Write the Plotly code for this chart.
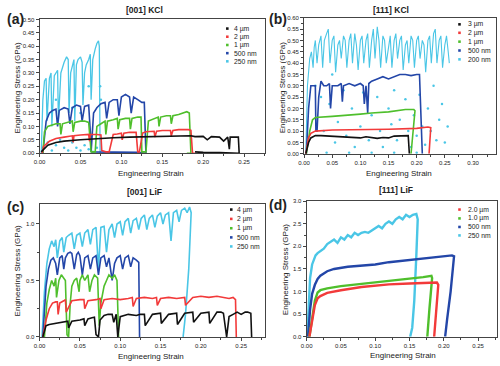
import plotly.graph_objects as go

W, H = 500, 366

# ---------------- (a) [001] KCl ----------------
A_BLACK_X = [0.002, 0.01, 0.02, 0.03, 0.05, 0.07, 0.09, 0.11, 0.13, 0.15, 0.17, 0.185, 0.19, 0.20, 0.205, 0.21, 0.22, 0.225, 0.23, 0.232, 0.233, 0.235, 0.24, 0.243, 0.244, 0.24, 0.22, 0.20, 0.19]
A_BLACK_Y = [0.005, 0.03, 0.04, 0.045, 0.05, 0.055, 0.058, 0.06, 0.062, 0.063, 0.065, 0.065, 0.062, 0.063, 0.05, 0.062, 0.06, 0.045, 0.06, 0.015, 0.06, 0.06, 0.06, 0.06, 0.0, 0.0, 0.002, 0.003, 0.005]
A_RED_X = [0.003, 0.005, 0.012, 0.02, 0.03, 0.04, 0.041, 0.042, 0.05, 0.06, 0.061, 0.062, 0.07, 0.075, 0.076, 0.08, 0.081, 0.085, 0.09, 0.095, 0.1, 0.101, 0.103, 0.11, 0.118, 0.12, 0.122, 0.126, 0.13, 0.14, 0.141, 0.143, 0.15, 0.16, 0.161, 0.163, 0.17, 0.178, 0.182, 0.185, 0.187, 0.19]
A_RED_Y = [0.0, 0.025, 0.045, 0.055, 0.06, 0.065, 0.04, 0.065, 0.068, 0.07, 0.045, 0.07, 0.07, 0.068, 0.01, 0.005, 0.005, 0.005, 0.07, 0.072, 0.075, 0.05, 0.075, 0.078, 0.078, 0.005, 0.005, 0.075, 0.08, 0.082, 0.06, 0.082, 0.085, 0.085, 0.065, 0.085, 0.088, 0.088, 0.088, 0.085, 0.0, 0.0]
A_GREEN_X = [0.004, 0.006, 0.01, 0.015, 0.02, 0.025, 0.026, 0.028, 0.035, 0.04, 0.041, 0.043, 0.05, 0.055, 0.06, 0.062, 0.063, 0.068, 0.07, 0.075, 0.08, 0.081, 0.083, 0.09, 0.095, 0.096, 0.098, 0.105, 0.11, 0.111, 0.113, 0.12, 0.124, 0.125, 0.13, 0.133, 0.14, 0.145, 0.146, 0.148, 0.155, 0.16, 0.161, 0.163, 0.17, 0.175, 0.18, 0.183, 0.185, 0.18]
A_GREEN_Y = [0.0, 0.08, 0.1, 0.105, 0.11, 0.11, 0.07, 0.11, 0.115, 0.12, 0.08, 0.115, 0.12, 0.12, 0.115, 0.01, 0.005, 0.005, 0.1, 0.11, 0.12, 0.07, 0.12, 0.125, 0.13, 0.09, 0.125, 0.13, 0.13, 0.09, 0.13, 0.135, 0.135, 0.005, 0.005, 0.12, 0.13, 0.135, 0.1, 0.135, 0.14, 0.14, 0.11, 0.14, 0.145, 0.15, 0.155, 0.15, 0.0, 0.0]
A_BLUE_X = [0.004, 0.008, 0.012, 0.016, 0.02, 0.022, 0.024, 0.03, 0.035, 0.037, 0.04, 0.045, 0.05, 0.052, 0.055, 0.06, 0.062, 0.063, 0.066, 0.07, 0.075, 0.08, 0.082, 0.085, 0.09, 0.095, 0.097, 0.1, 0.105, 0.11, 0.112, 0.115, 0.12, 0.125, 0.128, 0.13, 0.12, 0.1, 0.08, 0.063]
A_BLUE_Y = [0.0, 0.12, 0.15, 0.16, 0.165, 0.1, 0.16, 0.17, 0.165, 0.11, 0.17, 0.18, 0.175, 0.12, 0.175, 0.18, 0.08, 0.005, 0.15, 0.17, 0.185, 0.19, 0.13, 0.19, 0.2, 0.2, 0.14, 0.21, 0.22, 0.21, 0.15, 0.21, 0.2, 0.19, 0.19, 0.0, 0.003, 0.004, 0.005, 0.005]
A_CYAN_X = [0.002, 0.004, 0.006, 0.008, 0.009, 0.012, 0.014, 0.015, 0.018, 0.02, 0.022, 0.023, 0.026, 0.03, 0.033, 0.035, 0.036, 0.038, 0.04, 0.042, 0.043, 0.045, 0.047, 0.05, 0.052, 0.053, 0.055, 0.057, 0.06, 0.062, 0.063, 0.065, 0.068, 0.07, 0.072, 0.073, 0.074]
A_CYAN_Y = [0.0, 0.2, 0.27, 0.28, 0.12, 0.28, 0.3, 0.1, 0.29, 0.3, 0.31, 0.12, 0.3, 0.34, 0.36, 0.35, 0.15, 0.3, 0.33, 0.35, 0.12, 0.33, 0.35, 0.36, 0.34, 0.18, 0.3, 0.33, 0.35, 0.37, 0.2, 0.35, 0.39, 0.41, 0.42, 0.4, 0.0]
A_CYAN_DOTS_X = [0.005, 0.01, 0.015, 0.02, 0.025, 0.03, 0.035, 0.04, 0.045, 0.05, 0.055, 0.06, 0.065, 0.07, 0.075, 0.074, 0.02, 0.06, 0.05, 0.04]
A_CYAN_DOTS_Y = [0.02, 0.04, 0.01, 0.03, 0.05, 0.02, 0.01, 0.04, 0.02, 0.01, 0.03, 0.015, 0.005, 0.02, 0.2, 0.25, 0.2, 0.25, 0.15, 0.17]

# ---------------- (b) [111] KCl ----------------
B_BLACK_X = [0.003, 0.008, 0.012, 0.02, 0.03, 0.05, 0.07, 0.09, 0.1, 0.11, 0.12, 0.13, 0.14, 0.15, 0.16, 0.17, 0.18, 0.185, 0.187]
B_BLACK_Y = [0.0, 0.05, 0.07, 0.08, 0.08, 0.078, 0.075, 0.072, 0.07, 0.075, 0.07, 0.068, 0.072, 0.07, 0.078, 0.08, 0.082, 0.08, 0.0]
B_RED_X = [0.003, 0.008, 0.012, 0.02, 0.05, 0.1, 0.15, 0.2, 0.22, 0.225, 0.222]
B_RED_Y = [0.0, 0.07, 0.09, 0.1, 0.105, 0.105, 0.108, 0.112, 0.118, 0.115, 0.0]
B_GREEN_X = [0.004, 0.01, 0.015, 0.02, 0.05, 0.08, 0.1, 0.12, 0.15, 0.18, 0.195, 0.197, 0.19]
B_GREEN_Y = [0.0, 0.1, 0.15, 0.16, 0.165, 0.17, 0.175, 0.18, 0.185, 0.195, 0.195, 0.19, 0.0]
B_BLUE_X = [0.004, 0.008, 0.012, 0.016, 0.02, 0.021, 0.023, 0.026, 0.03, 0.035, 0.04, 0.045, 0.047, 0.05, 0.06, 0.066, 0.068, 0.07, 0.08, 0.09, 0.1, 0.105, 0.107, 0.11, 0.113, 0.115, 0.12, 0.13, 0.14, 0.15, 0.16, 0.17, 0.18, 0.19, 0.2, 0.205, 0.21]
B_BLUE_Y = [0.0, 0.2, 0.3, 0.3, 0.3, 0.1, 0.1, 0.25, 0.32, 0.3, 0.3, 0.31, 0.2, 0.3, 0.3, 0.31, 0.23, 0.3, 0.31, 0.3, 0.31, 0.3, 0.22, 0.3, 0.18, 0.31, 0.32, 0.33, 0.34, 0.33, 0.34, 0.35, 0.35, 0.345, 0.35, 0.35, 0.0]
B_CYAN_X = [0.003, 0.006, 0.01, 0.013, 0.016, 0.018, 0.02, 0.023, 0.026, 0.03, 0.033, 0.036, 0.04, 0.043, 0.046, 0.05, 0.053, 0.056, 0.06, 0.063, 0.066, 0.07, 0.073, 0.076, 0.08, 0.083, 0.086, 0.09, 0.093, 0.096, 0.1, 0.103, 0.106, 0.11, 0.113, 0.116, 0.12, 0.123, 0.126, 0.13, 0.133, 0.136, 0.14, 0.143, 0.146, 0.15, 0.153, 0.156, 0.16, 0.163, 0.166, 0.17, 0.173, 0.176, 0.18, 0.183, 0.186, 0.19, 0.193, 0.196, 0.2, 0.203, 0.206, 0.21, 0.213, 0.216, 0.22, 0.223, 0.226, 0.23, 0.233, 0.236, 0.24, 0.243, 0.246, 0.25, 0.253, 0.256, 0.258]
B_CYAN_Y = [0.0, 0.3, 0.42, 0.45, 0.38, 0.47, 0.5, 0.4, 0.48, 0.52, 0.38, 0.5, 0.53, 0.55, 0.4, 0.5, 0.52, 0.36, 0.48, 0.5, 0.42, 0.52, 0.5, 0.38, 0.5, 0.53, 0.4, 0.53, 0.48, 0.37, 0.5, 0.52, 0.4, 0.5, 0.53, 0.38, 0.5, 0.55, 0.42, 0.56, 0.5, 0.38, 0.52, 0.5, 0.4, 0.48, 0.52, 0.38, 0.5, 0.53, 0.42, 0.5, 0.52, 0.37, 0.48, 0.5, 0.4, 0.52, 0.5, 0.38, 0.5, 0.52, 0.42, 0.5, 0.48, 0.36, 0.5, 0.52, 0.4, 0.53, 0.55, 0.4, 0.5, 0.52, 0.38, 0.48, 0.52, 0.45, 0.4]
B_CYAN_DOTS_X = [0.02, 0.03, 0.035, 0.045, 0.05, 0.055, 0.06, 0.07, 0.075, 0.085, 0.09, 0.1, 0.105, 0.115, 0.12, 0.13, 0.135, 0.14, 0.15, 0.155, 0.16, 0.165, 0.17, 0.18, 0.185, 0.19, 0.195, 0.2, 0.205, 0.21, 0.215, 0.22, 0.225, 0.23, 0.235, 0.24, 0.245, 0.25, 0.255, 0.04, 0.08, 0.12, 0.16, 0.2]
B_CYAN_DOTS_Y = [0.3, 0.25, 0.1, 0.22, 0.35, 0.05, 0.14, 0.28, 0.08, 0.2, 0.03, 0.12, 0.27, 0.06, 0.17, 0.25, 0.1, 0.03, 0.2, 0.13, 0.28, 0.06, 0.15, 0.24, 0.1, 0.03, 0.17, 0.08, 0.26, 0.12, 0.04, 0.2, 0.1, 0.3, 0.06, 0.15, 0.22, 0.05, 0.12, 0.005, 0.005, 0.005, 0.005, 0.005]

# ---------------- (c) [001] LiF ----------------
C_BLACK_X = [0.004, 0.008, 0.012, 0.02, 0.03, 0.035, 0.036, 0.04, 0.05, 0.055, 0.056, 0.06, 0.065, 0.068, 0.07, 0.073, 0.075, 0.08, 0.085, 0.09, 0.092, 0.095, 0.097, 0.1, 0.11, 0.12, 0.125, 0.13, 0.131, 0.14, 0.15, 0.151, 0.16, 0.17, 0.171, 0.18, 0.19, 0.191, 0.2, 0.21, 0.211, 0.22, 0.225, 0.228, 0.232, 0.235, 0.24, 0.245, 0.25, 0.255, 0.258, 0.262, 0.263]
C_BLACK_Y = [0.0, 0.1, 0.11, 0.12, 0.13, 0.14, 0.08, 0.14, 0.15, 0.16, 0.1, 0.16, 0.17, 0.175, 0.02, 0.0, 0.15, 0.19, 0.2, 0.2, 0.13, 0.2, 0.0, 0.18, 0.2, 0.19, 0.2, 0.2, 0.1, 0.2, 0.21, 0.12, 0.2, 0.21, 0.11, 0.21, 0.22, 0.13, 0.21, 0.22, 0.12, 0.22, 0.22, 0.21, 0.0, 0.18, 0.2, 0.22, 0.2, 0.22, 0.22, 0.21, 0.0]
C_RED_X = [0.004, 0.008, 0.012, 0.016, 0.02, 0.022, 0.023, 0.025, 0.03, 0.032, 0.033, 0.04, 0.05, 0.055, 0.056, 0.06, 0.07, 0.075, 0.076, 0.08, 0.09, 0.1, 0.11, 0.115, 0.116, 0.12, 0.13, 0.14, 0.145, 0.146, 0.15, 0.16, 0.17, 0.18, 0.181, 0.19, 0.2, 0.21, 0.22, 0.23, 0.235, 0.24, 0.243, 0.244]
C_RED_Y = [0.0, 0.15, 0.25, 0.3, 0.31, 0.31, 0.2, 0.3, 0.32, 0.33, 0.22, 0.32, 0.33, 0.33, 0.25, 0.32, 0.33, 0.34, 0.25, 0.33, 0.34, 0.33, 0.34, 0.35, 0.27, 0.34, 0.35, 0.34, 0.35, 0.28, 0.34, 0.35, 0.34, 0.35, 0.28, 0.35, 0.36, 0.35, 0.36, 0.35, 0.34, 0.35, 0.33, 0.0]
C_GREEN_X = [0.006, 0.009, 0.012, 0.015, 0.018, 0.02, 0.021, 0.024, 0.027, 0.03, 0.032, 0.034, 0.036, 0.038, 0.04, 0.043, 0.046, 0.049, 0.05, 0.053, 0.056, 0.06, 0.062, 0.065, 0.068, 0.072, 0.074, 0.076, 0.08, 0.083, 0.086, 0.09, 0.093, 0.096, 0.097, 0.098]
C_GREEN_Y = [0.0, 0.3, 0.42, 0.5, 0.45, 0.52, 0.35, 0.5, 0.55, 0.52, 0.5, 0.02, 0.0, 0.3, 0.45, 0.5, 0.52, 0.4, 0.5, 0.55, 0.5, 0.55, 0.4, 0.5, 0.55, 0.52, 0.1, 0.3, 0.45, 0.5, 0.55, 0.52, 0.55, 0.5, 0.2, 0.0]
C_BLUE_X = [0.004, 0.008, 0.011, 0.014, 0.017, 0.02, 0.022, 0.025, 0.028, 0.03, 0.032, 0.035, 0.038, 0.04, 0.043, 0.046, 0.048, 0.05, 0.053, 0.056, 0.06, 0.063, 0.066, 0.07, 0.073, 0.076, 0.08, 0.083, 0.086, 0.09, 0.093, 0.096, 0.1, 0.103, 0.106, 0.11, 0.113, 0.116, 0.12, 0.123, 0.124]
C_BLUE_Y = [0.0, 0.45, 0.6, 0.68, 0.7, 0.65, 0.55, 0.7, 0.72, 0.6, 0.7, 0.74, 0.75, 0.74, 0.6, 0.73, 0.75, 0.72, 0.55, 0.7, 0.72, 0.6, 0.7, 0.72, 0.55, 0.7, 0.72, 0.62, 0.7, 0.5, 0.65, 0.7, 0.72, 0.6, 0.7, 0.72, 0.62, 0.7, 0.68, 0.66, 0.0]
C_CYAN_X = [0.003, 0.006, 0.009, 0.012, 0.015, 0.018, 0.02, 0.022, 0.025, 0.028, 0.03, 0.033, 0.036, 0.04, 0.043, 0.046, 0.05, 0.053, 0.056, 0.06, 0.063, 0.066, 0.07, 0.073, 0.076, 0.08, 0.083, 0.086, 0.09, 0.093, 0.096, 0.1, 0.103, 0.106, 0.11, 0.113, 0.116, 0.12, 0.123, 0.126, 0.13, 0.133, 0.136, 0.14, 0.143, 0.146, 0.15, 0.153, 0.156, 0.16, 0.163, 0.166, 0.17, 0.173, 0.176, 0.18, 0.183, 0.186, 0.188, 0.185, 0.181, 0.178]
C_CYAN_Y = [0.0, 0.4, 0.65, 0.78, 0.85, 0.8, 0.86, 0.7, 0.85, 0.88, 0.75, 0.88, 0.9, 0.92, 0.78, 0.9, 0.92, 0.8, 0.92, 0.95, 0.82, 0.95, 0.97, 0.6, 0.97, 0.98, 0.75, 0.95, 1.0, 0.88, 1.0, 1.02, 0.9, 1.02, 1.05, 0.92, 1.03, 1.05, 0.95, 1.05, 1.08, 0.95, 1.05, 1.08, 0.97, 1.07, 1.1, 1.0, 1.08, 1.1, 0.85, 1.1, 1.12, 1.02, 1.12, 1.14, 1.1, 1.15, 1.1, 0.6, 0.2, 0.0]

# ---------------- (d) [111] LiF ----------------
D_RED_X = [0.004, 0.008, 0.012, 0.016, 0.02, 0.03, 0.05, 0.08, 0.1, 0.12, 0.15, 0.17, 0.19, 0.192, 0.189, 0.186]
D_RED_Y = [0.0, 0.35, 0.7, 0.85, 0.9, 0.97, 1.03, 1.1, 1.13, 1.16, 1.18, 1.19, 1.2, 1.15, 0.5, 0.0]
D_GREEN_X = [0.004, 0.008, 0.012, 0.016, 0.02, 0.03, 0.05, 0.08, 0.1, 0.12, 0.15, 0.17, 0.182, 0.183, 0.179, 0.176]
D_GREEN_Y = [0.0, 0.4, 0.8, 0.98, 1.03, 1.07, 1.12, 1.17, 1.2, 1.23, 1.28, 1.32, 1.35, 1.3, 0.6, 0.0]
D_BLUE_X = [0.002, 0.005, 0.008, 0.012, 0.016, 0.02, 0.03, 0.04, 0.06, 0.08, 0.1, 0.12, 0.15, 0.18, 0.2, 0.212, 0.215, 0.21, 0.205, 0.202]
D_BLUE_Y = [0.0, 0.6, 0.95, 1.15, 1.28, 1.35, 1.45, 1.5, 1.55, 1.57, 1.6, 1.65, 1.7, 1.75, 1.78, 1.8, 1.78, 1.0, 0.4, 0.0]
D_CYAN_X = [0.001, 0.003, 0.005, 0.008, 0.01, 0.013, 0.016, 0.02, 0.025, 0.03, 0.035, 0.04, 0.045, 0.05, 0.055, 0.06, 0.065, 0.07, 0.075, 0.08, 0.085, 0.09, 0.095, 0.1, 0.105, 0.11, 0.115, 0.12, 0.125, 0.13, 0.135, 0.14, 0.145, 0.15, 0.155, 0.16, 0.162, 0.16, 0.157, 0.154, 0.151]
D_CYAN_Y = [0.0, 0.8, 1.3, 1.6, 1.7, 1.8, 1.85, 1.9, 1.95, 2.05, 2.1, 2.15, 2.08, 2.2, 2.15, 2.25, 2.2, 2.3, 2.25, 2.3, 2.32, 2.3, 2.35, 2.4, 2.45, 2.4, 2.5, 2.55, 2.5, 2.6, 2.65, 2.6, 2.7, 2.65, 2.7, 2.72, 2.6, 1.8, 0.8, 0.2, 0.0]

LEGEND_A = ["4 µm", "2 µm", "1 µm", "500 nm", "250 nm"]
LEGEND_B = ["3 µm", "2 µm", "1 µm", "500 nm", "200 nm"]
LEGEND_C = ["4 µm", "2 µm", "1 µm", "500 nm", "250 nm"]
LEGEND_D = ["2.0 µm", "1.0 µm", "500 nm", "250 nm"]

BLACK, RED, GREEN, BLUE, CYAN = "#111111", "#f23a3a", "#4fbf2c", "#2346a8", "#4ac6e6"
FONT = "Liberation Sans, Arial, sans-serif"


def px(x):
    return x / W


def py(y):
    return 1 - y / H


fig = go.Figure()


def add(xs, ys, color, ax, width=1.6, dots=False):
    if dots:
        fig.add_trace(go.Scatter(x=xs, y=ys, mode="markers", marker=dict(color=color, size=2.5),
                                 xaxis="x" + ax, yaxis="y" + ax, showlegend=False, hoverinfo="skip"))
    else:
        fig.add_trace(go.Scatter(x=xs, y=ys, mode="lines", line=dict(color=color, width=width),
                                 xaxis="x" + ax, yaxis="y" + ax, showlegend=False, hoverinfo="skip"))


# (a)
add(A_CYAN_DOTS_X, A_CYAN_DOTS_Y, CYAN, "", dots=True)
add(A_CYAN_X, A_CYAN_Y, CYAN, "", width=1.3)
add(A_BLUE_X, A_BLUE_Y, BLUE, "")
add(A_GREEN_X, A_GREEN_Y, GREEN, "")
add(A_RED_X, A_RED_Y, RED, "")
add(A_BLACK_X, A_BLACK_Y, BLACK, "")
# (b)
add(B_CYAN_DOTS_X, B_CYAN_DOTS_Y, CYAN, "2", dots=True)
add(B_CYAN_X, B_CYAN_Y, CYAN, "2", width=1.1)
add(B_BLUE_X, B_BLUE_Y, BLUE, "2")
add(B_GREEN_X, B_GREEN_Y, GREEN, "2")
add(B_RED_X, B_RED_Y, RED, "2")
add(B_BLACK_X, B_BLACK_Y, BLACK, "2")
# (c)
add(C_CYAN_X, C_CYAN_Y, CYAN, "3")
add(C_BLUE_X, C_BLUE_Y, BLUE, "3")
add(C_GREEN_X, C_GREEN_Y, GREEN, "3")
add(C_RED_X, C_RED_Y, RED, "3")
add(C_BLACK_X, C_BLACK_Y, BLACK, "3")
# (d)
add(D_CYAN_X, D_CYAN_Y, CYAN, "4", width=2.4)
add(D_BLUE_X, D_BLUE_Y, BLUE, "4", width=2.4)
add(D_GREEN_X, D_GREEN_Y, GREEN, "4", width=2.4)
add(D_RED_X, D_RED_Y, RED, "4", width=2.4)


def xax(dom, rng, anchor):
    return dict(domain=dom, range=rng, anchor=anchor, tick0=0, dtick=0.05, tickformat=".2f",
                showline=True, linecolor="#444", linewidth=1, mirror=True, ticks="outside",
                ticklen=3, tickwidth=1, tickcolor="#444", showgrid=False, zeroline=False,
                tickfont=dict(size=6, color="#222", family=FONT),
                minor=dict(ticks="outside", ticklen=2, dtick=0.025, tickcolor="#444"))


def yax(dom, rng, anchor, dtick, fmt, mdt):
    return dict(domain=dom, range=rng, anchor=anchor, tick0=0, dtick=dtick, tickformat=fmt,
                showline=True, linecolor="#444", linewidth=1, mirror=True, ticks="outside",
                ticklen=3, tickwidth=1, tickcolor="#444", showgrid=False, zeroline=False,
                tickfont=dict(size=6, color="#222", family=FONT),
                minor=dict(ticks="outside", ticklen=2, dtick=mdt, tickcolor="#444"))


fig.update_layout(
    width=W, height=H, margin=dict(l=0, r=0, t=0, b=0),
    paper_bgcolor="white", plot_bgcolor="white", showlegend=False,
    font=dict(family=FONT, color="#222"),
    xaxis=xax([px(34), px(262)], [0, 0.2754], "y"),
    yaxis=yax([py(152.7), py(16.7)], [0, 0.5], "x", 0.05, ".2f", 0.025),
    xaxis2=xax([px(301.7), px(496)], [0, 0.341], "y2"),
    yaxis2=yax([py(153.3), py(15)], [0, 0.6], "x2", 0.05, ".2f", 0.025),
    xaxis3=xax([px(34), px(262)], [0, 0.2794], "y3"),
    yaxis3=yax([py(339.5), py(204)], [0, 1.18], "x3", 0.5, ".1f", 0.25),
    xaxis4=xax([px(304.3), px(497)], [0, 0.2777], "y4"),
    yaxis4=yax([py(339.3), py(201.5)], [0, 3.0], "x4", 0.5, ".1f", 0.25),
)

ann = []
shapes = []


def text(x, y, s, size, bold=False, angle=0, xanchor="center"):
    ann.append(dict(x=px(x), y=py(y), xref="paper", yref="paper", text=("<b>%s</b>" % s) if bold else s,
                    showarrow=False, xanchor=xanchor, yanchor="middle", textangle=angle,
                    font=dict(size=size, family=FONT, color="#222")))


# titles
text(140, 7, "[001] KCl", 8.5, bold=True)
text(390, 7, "[111] KCl", 8.5, bold=True)
text(140, 192, "[001] LiF", 8.5, bold=True)
text(395, 190, "[111] LiF", 8.5, bold=True)
# panel labels
text(10, 16, "(a)", 14, bold=True)
text(275, 16, "(b)", 14, bold=True)
text(10, 207, "(c)", 14, bold=True)
text(275, 205, "(d)", 14, bold=True)
# axis titles
for (x, y) in [(147, 173), (398, 173), (147, 359), (402, 358)]:
    text(x, y, "Engineering Strain", 8)
for (x, y) in [(12, 86), (280, 86), (12, 272), (283, 271)]:
    text(x, y, "Engineering Stress (GPa)", 8, angle=-90)


def legend(mx, tx, ys, labels, colors):
    for yy, lab, col in zip(ys, labels, colors):
        shapes.append(dict(type="rect", xref="paper", yref="paper", x0=px(mx - 1.3), x1=px(mx + 1.3),
                           y0=py(yy + 1.3), y1=py(yy - 1.3), fillcolor=col, line=dict(width=0)))
        text(tx, yy, lab, 6.8, xanchor="left")


legend(224, 229, [26, 34.3, 42.7, 51, 59.3], LEGEND_A, [BLACK, RED, GREEN, BLUE, CYAN])
legend(459, 466, [21.7, 30.3, 39.3, 48.3, 57.3], LEGEND_B, [BLACK, RED, GREEN, BLUE, CYAN])
legend(228, 232, [210, 219.5, 229, 238.3, 247.5], LEGEND_C, [BLACK, RED, GREEN, BLUE, CYAN])
legend(459, 466, [210, 219, 227.7, 236.3], LEGEND_D, [RED, GREEN, BLUE, CYAN])

fig.update_layout(annotations=ann, shapes=shapes)
fig.write_html("out.html", config={"displayModeBar": False, "staticPlot": True},
               post_script="document.body.style.margin='0';document.body.style.padding='0';document.body.style.overflow='hidden';")
